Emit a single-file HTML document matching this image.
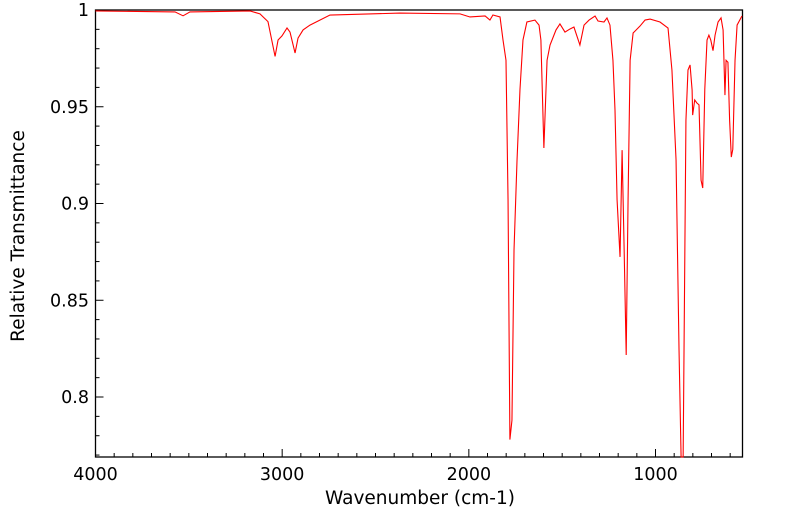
<!DOCTYPE html>
<html><head><meta charset="utf-8"><style>
body{margin:0;background:#fff;font-family:"DejaVu Sans","Liberation Sans",sans-serif}
svg{display:block}
</style></head><body>
<svg id="chart" width="799" height="516" font-family="DejaVu Sans, Liberation Sans, sans-serif">
<rect x="95.5" y="10" width="647" height="447" fill="#fff" stroke="#000" stroke-width="1.3"/>
<g id="ticks"></g>
<path id="line" fill="none" stroke="#ff0000" stroke-width="1.1"/>
<text x="420" y="504" font-size="18.5" text-anchor="middle">Wavenumber (cm-1)</text>
<text transform="translate(24,236) rotate(-90)" font-size="18.5" text-anchor="middle">Relative Transmittance</text>
</svg>
<script>
const wavenumbers=[4000,3574,3531,3494,3172,3119,3076,3038,3022,3001,2974,2958,2931,2915,2888,2851,2744,2369,2047,1994,1913,1887,1871,1833,1817,1801,1790,1780,1769,1758,1742,1726,1710,1689,1646,1624,1614,1598,1581,1565,1533,1512,1485,1458,1437,1405,1383,1356,1324,1308,1276,1260,1244,1228,1217,1206,1190,1179,1168,1157,1147,1136,1120,1083,1056,1029,976,933,912,890,874,863,852,837,826,815,804,801,790,779,767,756,747,736,724,714,704,692,681,665,649,638,628,622,612,603,594,586,574,563,537];
const transmittance=[0.9995,0.999,0.997,0.999,0.9995,0.998,0.994,0.976,0.9845,0.9866,0.9907,0.9886,0.9778,0.9855,0.9897,0.9922,0.9974,0.9984,0.998,0.9964,0.9969,0.9948,0.9974,0.9964,0.9845,0.974,0.902,0.778,0.788,0.876,0.922,0.959,0.9845,0.9938,0.9948,0.9922,0.9845,0.9287,0.974,0.9819,0.9897,0.9928,0.9886,0.9902,0.9912,0.9819,0.9922,0.9948,0.9969,0.9943,0.9938,0.9959,0.9922,0.974,0.9483,0.902,0.8724,0.9276,0.876,0.8217,0.902,0.974,0.9881,0.9917,0.9948,0.9953,0.9938,0.9907,0.969,0.9225,0.8243,0.767,0.767,0.943,0.969,0.9716,0.9587,0.9457,0.9535,0.952,0.951,0.912,0.908,0.959,0.9845,0.987,0.9845,0.979,0.987,0.9938,0.9959,0.9897,0.956,0.974,0.973,0.943,0.924,0.928,0.974,0.9922,0.9969];
const xTicks=[4000,3000,2000,1000];
const yTicks=[0.8,0.85,0.9,0.95,1];
const yTickLabels=["0.8","0.85","0.9","0.95","1"];
const X0=95.5,X1=742.5,Y0=10,Y1=457,WMAX=4000,WMIN=534,TMAX=1,TMIN=0.769;
function xs(w){return X0+(WMAX-w)/(WMAX-WMIN)*(X1-X0);}
function ys(t){return Y0+(TMAX-t)/(TMAX-TMIN)*(Y1-Y0);}
const NS="http://www.w3.org/2000/svg";
const g=document.getElementById('ticks');
function ln(x1,y1,x2,y2,name){const l=document.createElementNS(NS,'line');l.setAttribute('x1',x1);l.setAttribute('y1',y1);l.setAttribute('x2',x2);l.setAttribute('y2',y2);l.setAttribute('stroke','#000');


g.appendChild(l);}
function tx(x,y,s,anchor,name){const t=document.createElementNS(NS,'text');t.setAttribute('x',x);t.setAttribute('y',y);t.setAttribute('font-size','17.5');t.setAttribute('text-anchor',anchor);t.textContent=s;


g.appendChild(t);}
for(let w=4000;w>WMIN;w-=100){const x=xs(w);const major=w%1000===0;ln(x,Y1,x,Y1-(major?8:4),major?'x-major-tick':'x-minor-tick');}
xTicks.forEach(w=>tx(xs(w),480,String(w),'middle','x-tick-label'));
for(let i=0;i<=23;i++){const t=1-i*0.01;if(t<TMIN)break;const y=ys(t);const major=i%5===0;ln(X0,y,X0+(major?8:4),y,major?'y-major-tick':'y-minor-tick');}
yTicks.forEach((t,i)=>tx(89,ys(t)+6,yTickLabels[i],'end','y-tick-label'));
let d='';
wavenumbers.forEach((w,i)=>{d+=(i?'L':'M')+xs(w).toFixed(2)+','+Math.min(ys(transmittance[i]),Y1).toFixed(2);});
document.getElementById('line').setAttribute('d',d);
</script>
</body></html>
